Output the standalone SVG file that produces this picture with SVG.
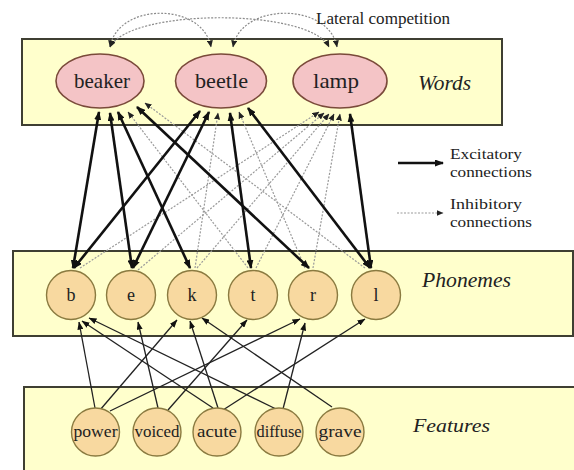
<svg xmlns="http://www.w3.org/2000/svg" width="574" height="470" viewBox="0 0 574 470">
<defs>
<style>
.box{fill:#FFFFCC;stroke:#3f3f32;stroke-width:2}
.word{fill:#F4C4C6;stroke:#7a4a3a;stroke-width:1.6}
.pho{fill:#F8D9A0;stroke:#8a7a40;stroke-width:1.4}
.t{font-family:"Liberation Serif","Times New Roman",serif;fill:#222}
.lbl{font-family:"Liberation Serif","Times New Roman",serif;font-style:italic;fill:#222}
.ex{stroke:#111;stroke-width:2.6;fill:none;marker-start:url(#ah);marker-end:url(#ah)}
.inh{stroke:#9a9a9a;stroke-width:1.2;stroke-dasharray:2,1.5;fill:none;marker-end:url(#ih)}
.lat{stroke:#8a8a8a;stroke-width:1.2;stroke-dasharray:2,1.5;fill:none;marker-start:url(#ih);marker-end:url(#ih)}
.ft{stroke:#222;stroke-width:1.3;fill:none;marker-end:url(#fh)}
</style>
<marker id="ah" markerUnits="userSpaceOnUse" markerWidth="9" markerHeight="7" refX="8" refY="3.5" orient="auto-start-reverse"><path d="M0,0 L9,3.5 L0,7 z" fill="#111"/></marker>
<marker id="ih" markerUnits="userSpaceOnUse" markerWidth="7" markerHeight="6" refX="6.5" refY="3" orient="auto-start-reverse"><path d="M0,0 L7,3 L0,6 z" fill="#222"/></marker>
<marker id="fh" markerUnits="userSpaceOnUse" markerWidth="8" markerHeight="6" refX="7.5" refY="3" orient="auto"><path d="M0,0 L8,3 L0,6 z" fill="#111"/></marker>
</defs>
<rect width="574" height="470" fill="#fff"/>

<g id="layer-words"><rect class="box" x="22" y="39" width="480" height="86"/></g>
<g id="layer-phonemes"><rect class="box" x="13" y="251" width="560" height="85"/></g>
<g id="layer-features"><rect class="box" x="24" y="387" width="570" height="100"/></g>

<g id="connectors">
<path class="lat" d="M110,47 C118,2 203,2 211,47"/>
<path class="lat" d="M110,47 C130,8 310,8 329,47"/>
<path class="lat" d="M233,47 C241,2 329,2 337,47"/>
<line class="inh" x1="80" y1="268" x2="319" y2="112"/>
<line class="inh" x1="138" y1="270" x2="324" y2="113"/>
<line class="inh" x1="195" y1="268" x2="218" y2="113"/>
<line class="inh" x1="197" y1="268" x2="329" y2="114"/>
<line class="inh" x1="248" y1="268" x2="128" y2="112"/>
<line class="inh" x1="256" y1="268" x2="334" y2="114"/>
<line class="inh" x1="305" y1="268" x2="239" y2="112"/>
<line class="inh" x1="313" y1="268" x2="340" y2="114"/>
<line class="inh" x1="365" y1="268" x2="145" y2="103"/>
<line class="ex" x1="99" y1="112" x2="73" y2="268"/>
<line class="ex" x1="110" y1="113" x2="132" y2="268"/>
<line class="ex" x1="118" y1="112" x2="190" y2="268"/>
<line class="ex" x1="137" y1="107" x2="309" y2="268"/>
<line class="ex" x1="200" y1="111" x2="74" y2="268"/>
<line class="ex" x1="209" y1="112" x2="133" y2="268"/>
<line class="ex" x1="230" y1="113" x2="251" y2="268"/>
<line class="ex" x1="248" y1="108" x2="370" y2="268"/>
<line class="ex" x1="350" y1="114" x2="371" y2="268"/>
<line class="ft" x1="95" y1="408" x2="79" y2="322"/>
<line class="ft" x1="100" y1="410" x2="177" y2="320"/>
<line class="ft" x1="110" y1="411" x2="300" y2="319"/>
<line class="ft" x1="158" y1="408" x2="138" y2="322"/>
<line class="ft" x1="168" y1="410" x2="247" y2="320"/>
<line class="ft" x1="213" y1="408" x2="82" y2="321"/>
<line class="ft" x1="218" y1="408" x2="190" y2="321"/>
<line class="ft" x1="223" y1="410" x2="365" y2="319"/>
<line class="ft" x1="276" y1="409" x2="89" y2="318"/>
<line class="ft" x1="283" y1="409" x2="305" y2="323"/>
<line class="ft" x1="332" y1="407" x2="202" y2="318"/>
<line class="ex" style="marker-start:none" x1="398" y1="163" x2="443" y2="163"/>
<line class="inh" x1="397" y1="213" x2="443" y2="213"/>
</g>

<g id="word-beaker"><ellipse class="word" cx="100" cy="81" rx="44" ry="27"/><text class="t" x="74" y="88" font-size="21" textLength="56" lengthAdjust="spacingAndGlyphs">beaker</text></g>
<g id="word-beetle"><ellipse class="word" cx="221" cy="81" rx="45.5" ry="27"/><text class="t" x="195" y="88" font-size="21" textLength="53" lengthAdjust="spacingAndGlyphs">beetle</text></g>
<g id="word-lamp"><ellipse class="word" cx="340" cy="81" rx="47" ry="27"/><text class="t" x="313" y="88" font-size="21" textLength="46" lengthAdjust="spacingAndGlyphs">lamp</text></g>

<g id="ph-b"><circle class="pho" cx="71" cy="295" r="24.5"/><text class="t" x="71" y="301" font-size="18" text-anchor="middle">b</text></g>
<g id="ph-e"><circle class="pho" cx="131" cy="295" r="24.5"/><text class="t" x="131" y="301" font-size="18" text-anchor="middle">e</text></g>
<g id="ph-k"><circle class="pho" cx="192" cy="295" r="24.5"/><text class="t" x="192" y="301" font-size="18" text-anchor="middle">k</text></g>
<g id="ph-t"><circle class="pho" cx="253" cy="295" r="24.5"/><text class="t" x="253" y="301" font-size="18" text-anchor="middle">t</text></g>
<g id="ph-r"><circle class="pho" cx="313" cy="295" r="24.5"/><text class="t" x="313" y="301" font-size="18" text-anchor="middle">r</text></g>
<g id="ph-l"><circle class="pho" cx="376" cy="295" r="24.5"/><text class="t" x="376" y="301" font-size="18" text-anchor="middle">l</text></g>

<g id="ft-power"><circle class="pho" cx="95.5" cy="432" r="24"/><text class="t" x="95.5" y="437" font-size="17" text-anchor="middle" textLength="44" lengthAdjust="spacingAndGlyphs">power</text></g>
<g id="ft-voiced"><circle class="pho" cx="157" cy="432" r="24"/><text class="t" x="157" y="437" font-size="17" text-anchor="middle" textLength="45" lengthAdjust="spacingAndGlyphs">voiced</text></g>
<g id="ft-acute"><circle class="pho" cx="217" cy="432" r="24"/><text class="t" x="217" y="437" font-size="17" text-anchor="middle" textLength="40" lengthAdjust="spacingAndGlyphs">acute</text></g>
<g id="ft-diffuse"><circle class="pho" cx="279" cy="432" r="24"/><text class="t" x="279" y="437" font-size="17" text-anchor="middle" textLength="45" lengthAdjust="spacingAndGlyphs">diffuse</text></g>
<g id="ft-grave"><circle class="pho" cx="340" cy="432" r="24"/><text class="t" x="340" y="437" font-size="17" text-anchor="middle" textLength="43" lengthAdjust="spacingAndGlyphs">grave</text></g>

<g id="labels">
<text class="t" x="316" y="24" font-size="17" textLength="134" lengthAdjust="spacingAndGlyphs">Lateral competition</text>
<text class="lbl" x="418" y="90" font-size="21" textLength="53" lengthAdjust="spacingAndGlyphs">Words</text>
<text class="lbl" x="422" y="287" font-size="20" textLength="89" lengthAdjust="spacingAndGlyphs">Phonemes</text>
<text class="lbl" x="413" y="432" font-size="19" textLength="77" lengthAdjust="spacingAndGlyphs">Features</text>
<text class="t" x="450" y="159" font-size="15" textLength="72" lengthAdjust="spacingAndGlyphs">Excitatory</text>
<text class="t" x="450" y="177" font-size="15" textLength="82" lengthAdjust="spacingAndGlyphs">connections</text>
<text class="t" x="450" y="209" font-size="15" textLength="72" lengthAdjust="spacingAndGlyphs">Inhibitory</text>
<text class="t" x="450" y="227" font-size="15" textLength="82" lengthAdjust="spacingAndGlyphs">connections</text>
</g>
</svg>
